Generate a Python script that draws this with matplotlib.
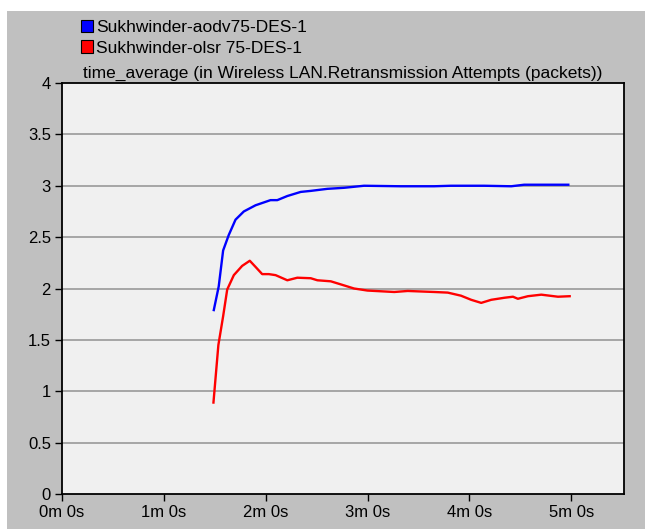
import matplotlib
matplotlib.use("Agg")
import matplotlib.pyplot as plt
from matplotlib.patches import Rectangle, Patch

plt.rcParams['font.family'] = ['Liberation Sans', 'DejaVu Sans']

title = "time_average (in Wireless LAN.Retransmission Attempts (packets))"
series_names = ["Sukhwinder-aodv75-DES-1", "Sukhwinder-olsr 75-DES-1"]
series_colors = ["#0000ff", "#ff0000"]

# time in seconds
aodv_t = [89.4, 92.3, 94.9, 98.2, 102.2, 107.1, 114.0, 122.8, 126.8, 132.7, 140.6,
          146.5, 156.3, 166.1, 177.9, 199.6, 219.1, 229.1, 248.6, 264.6, 272.2, 298.2]
aodv_v = [1.79, 2.02, 2.37, 2.52, 2.67, 2.75, 2.81, 2.86, 2.86, 2.90, 2.94,
          2.95, 2.97, 2.98, 3.00, 2.995, 2.995, 3.00, 3.00, 2.995, 3.01, 3.01]

olsr_t = [89.2, 92.1, 94.9, 97.3, 101.2, 106.1, 110.6, 114.0, 117.9, 121.8, 125.8,
          132.7, 138.6, 146.5, 150.4, 158.3, 164.2, 172.0, 179.9, 195.7, 203.6, 219.3,
          227.2, 235.0, 241.0, 246.9, 252.8, 260.6, 265.6, 268.5, 274.4, 282.3, 292.1, 299.0]
olsr_v = [0.89, 1.45, 1.73, 1.99, 2.13, 2.22, 2.27, 2.21, 2.14, 2.14, 2.13,
          2.08, 2.105, 2.10, 2.08, 2.07, 2.04, 2.00, 1.98, 1.966, 1.976, 1.966,
          1.96, 1.93, 1.89, 1.86, 1.89, 1.91, 1.92, 1.90, 1.925, 1.94, 1.92, 1.925]

x_ticks = [0, 60, 120, 180, 240, 300]
x_tick_labels = ["0m 0s", "1m 0s", "2m 0s", "3m 0s", "4m 0s", "5m 0s"]
y_ticks = [0, 0.5, 1, 1.5, 2, 2.5, 3, 3.5, 4]
y_tick_labels = ["0", "0.5", "1", "1.5", "2", "2.5", "3", "3.5", "4"]

W, H = 653, 529
fig = plt.figure(figsize=(W / 100, H / 100), dpi=100)
fig.patch.set_facecolor("white")
fig.patches.append(Rectangle((7 / W, 0), (645 - 7) / W, (528 - 11) / H + 1 / H,
                             transform=fig.transFigure, facecolor="#c0c0c0",
                             edgecolor="none", zorder=-10))

ax = fig.add_axes([62 / W, 1 - 494 / H, (624 - 62) / W, (494 - 83) / H])
ax.set_zorder(1)
ax.set_facecolor("#f0f0f0")

ax.plot(aodv_t, aodv_v, color=series_colors[0], lw=1.7, zorder=3)
ax.plot(olsr_t, olsr_v, color=series_colors[1], lw=1.7, zorder=3)

ax.set_xlim(0, 331)
ax.set_ylim(0, 4)
ax.set_xticks(x_ticks)
ax.set_xticklabels(x_tick_labels)
ax.set_yticks(y_ticks)
ax.set_yticklabels(y_tick_labels)
for yv in y_ticks[1:-1]:
    ax.axhline(yv, color="#999999", lw=1.2, zorder=1)

ax.tick_params(axis="both", direction="out", length=5, width=1, colors="black",
               labelsize=12)
ax.tick_params(axis="y", pad=3)
ax.tick_params(axis="x", pad=3)
for s in ax.spines.values():
    s.set_color("black")
    s.set_linewidth(1.3)

ax.set_title(title, fontsize=12.5, pad=4)

handles = [Patch(facecolor=c, edgecolor="black", linewidth=0.8) for c in series_colors]
leg = fig.legend(handles, series_names, loc="upper left",
                 bbox_to_anchor=(79 / W, 1 - 18 / H), frameon=False, fontsize=12.5,
                 handlelength=0.7, handleheight=0.7, handletextpad=0.2,
                 labelspacing=0.32, borderpad=0.1, borderaxespad=0)
leg.set_zorder(5)

fig.savefig("out.png", dpi=100)
